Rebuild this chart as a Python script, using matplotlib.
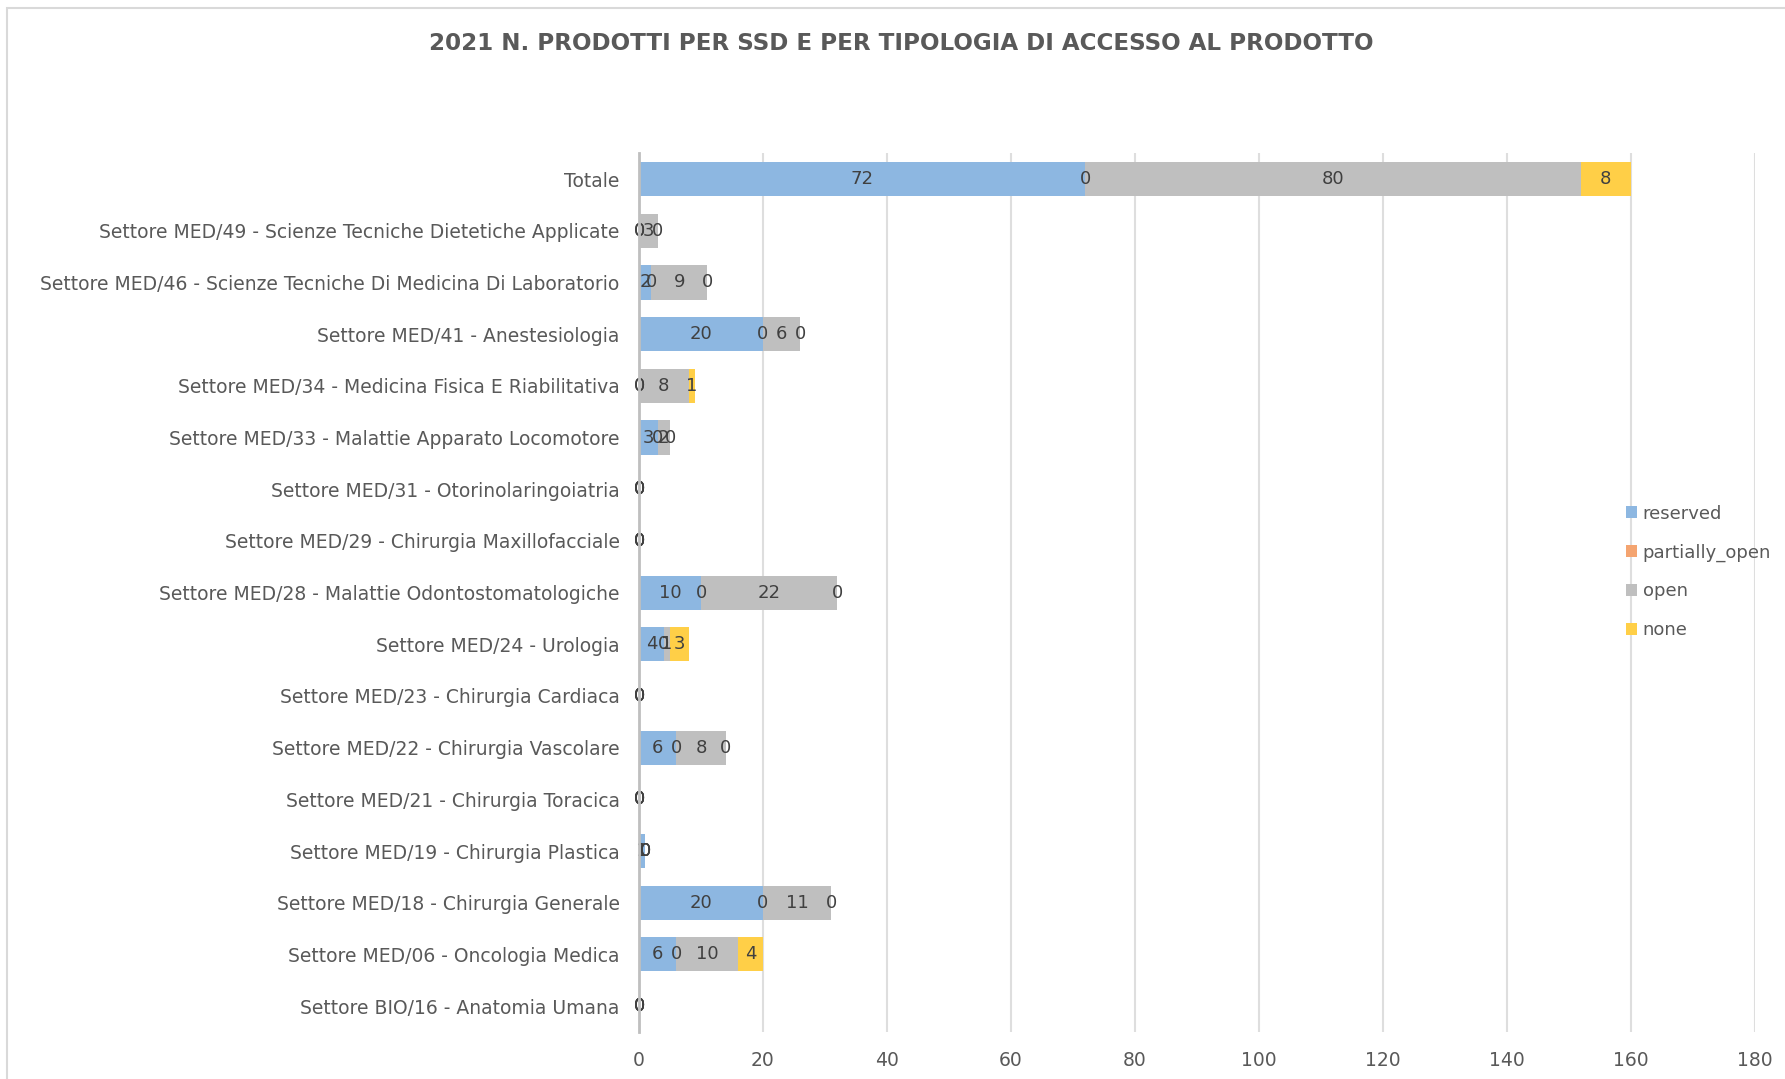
import numpy as np
import matplotlib
matplotlib.use("Agg")
import matplotlib.pyplot as plt
from matplotlib.patches import Rectangle

categories = [
    "Totale",
    "Settore MED/49 - Scienze Tecniche Dietetiche Applicate",
    "Settore MED/46 - Scienze Tecniche Di Medicina Di Laboratorio",
    "Settore MED/41 - Anestesiologia",
    "Settore MED/34 - Medicina Fisica E Riabilitativa",
    "Settore MED/33 - Malattie Apparato Locomotore",
    "Settore MED/31 - Otorinolaringoiatria",
    "Settore MED/29 - Chirurgia Maxillofacciale",
    "Settore MED/28 - Malattie Odontostomatologiche",
    "Settore MED/24 - Urologia",
    "Settore MED/23 - Chirurgia Cardiaca",
    "Settore MED/22 - Chirurgia Vascolare",
    "Settore MED/21 - Chirurgia Toracica",
    "Settore MED/19 - Chirurgia Plastica",
    "Settore MED/18 - Chirurgia Generale",
    "Settore MED/06 - Oncologia Medica",
    "Settore BIO/16 - Anatomia Umana",
]
reserved = [72, 0, 2, 20, 0, 3, 0, 0, 10, 4, 0, 6, 0, 1, 20, 6, 0]
partially_open = [0, 0, 0, 0, 0, 0, 0, 0, 0, 0, 0, 0, 0, 0, 0, 0, 0]
open_ = [80, 3, 9, 6, 8, 2, 0, 0, 22, 1, 0, 8, 0, 0, 11, 10, 0]
none = [8, 0, 0, 0, 1, 0, 0, 0, 0, 3, 0, 0, 0, 0, 0, 4, 0]

series = [
    ("reserved", reserved, "#8DB7E1"),
    ("partially_open", partially_open, "#F4A470"),
    ("open", open_, "#BFBFBF"),
    ("none", none, "#FFCF47"),
]

plt.rcParams['font.family'] = ['DejaVu Sans']
txt = "#595959"

fig = plt.figure(figsize=(17.85, 10.79), dpi=100)
ax = fig.add_axes([0.358, 0.0436, 0.625, 0.8144])

y = np.arange(len(categories))[::-1]
left = np.zeros(len(categories))
for name, vals, col in series:
    v = np.array(vals, dtype=float)
    bars = ax.barh(y, v, left=left, height=0.66, color=col, label=name, zorder=3)
    ax.bar_label(bars, labels=[str(int(a)) for a in v], label_type='center',
                 fontsize=13, color="#404040", zorder=4)
    left += v

ax.set_xlim(0, 180)
ax.set_ylim(-0.5, len(categories) - 0.5)
ax.set_xticks(np.arange(0, 181, 20))
ax.set_yticks(y)
ax.set_yticklabels(categories)
ax.tick_params(axis='both', length=0, labelsize=13.5, labelcolor=txt)
ax.tick_params(axis='x', pad=14)
ax.tick_params(axis='y', pad=14)
ax.grid(axis='x', color="#DEDEDE", linewidth=1.5, zorder=0)
for s in ['top', 'right', 'bottom']:
    ax.spines[s].set_visible(False)
ax.spines['left'].set_color("#BFBFBF")
ax.spines['left'].set_linewidth(2)
ax.spines['left'].set_zorder(5)

fig.suptitle("2021 N. PRODOTTI PER SSD E PER TIPOLOGIA DI ACCESSO AL PRODOTTO",
             x=0.505, y=0.97, fontsize=16.6, fontweight='bold', color=txt)

fig.legend(loc='center left', bbox_to_anchor=(0.902, 0.47), frameon=False,
           fontsize=13, labelcolor=txt, handlelength=0.6, handleheight=0.6,
           handletextpad=0.3, labelspacing=1.15)

fig.patches.append(Rectangle((0.004, -0.01), 0.998, 1.003, transform=fig.transFigure,
                             fill=False, edgecolor="#D9D9D9", linewidth=1.5))

fig.savefig("out.png", dpi=100)
